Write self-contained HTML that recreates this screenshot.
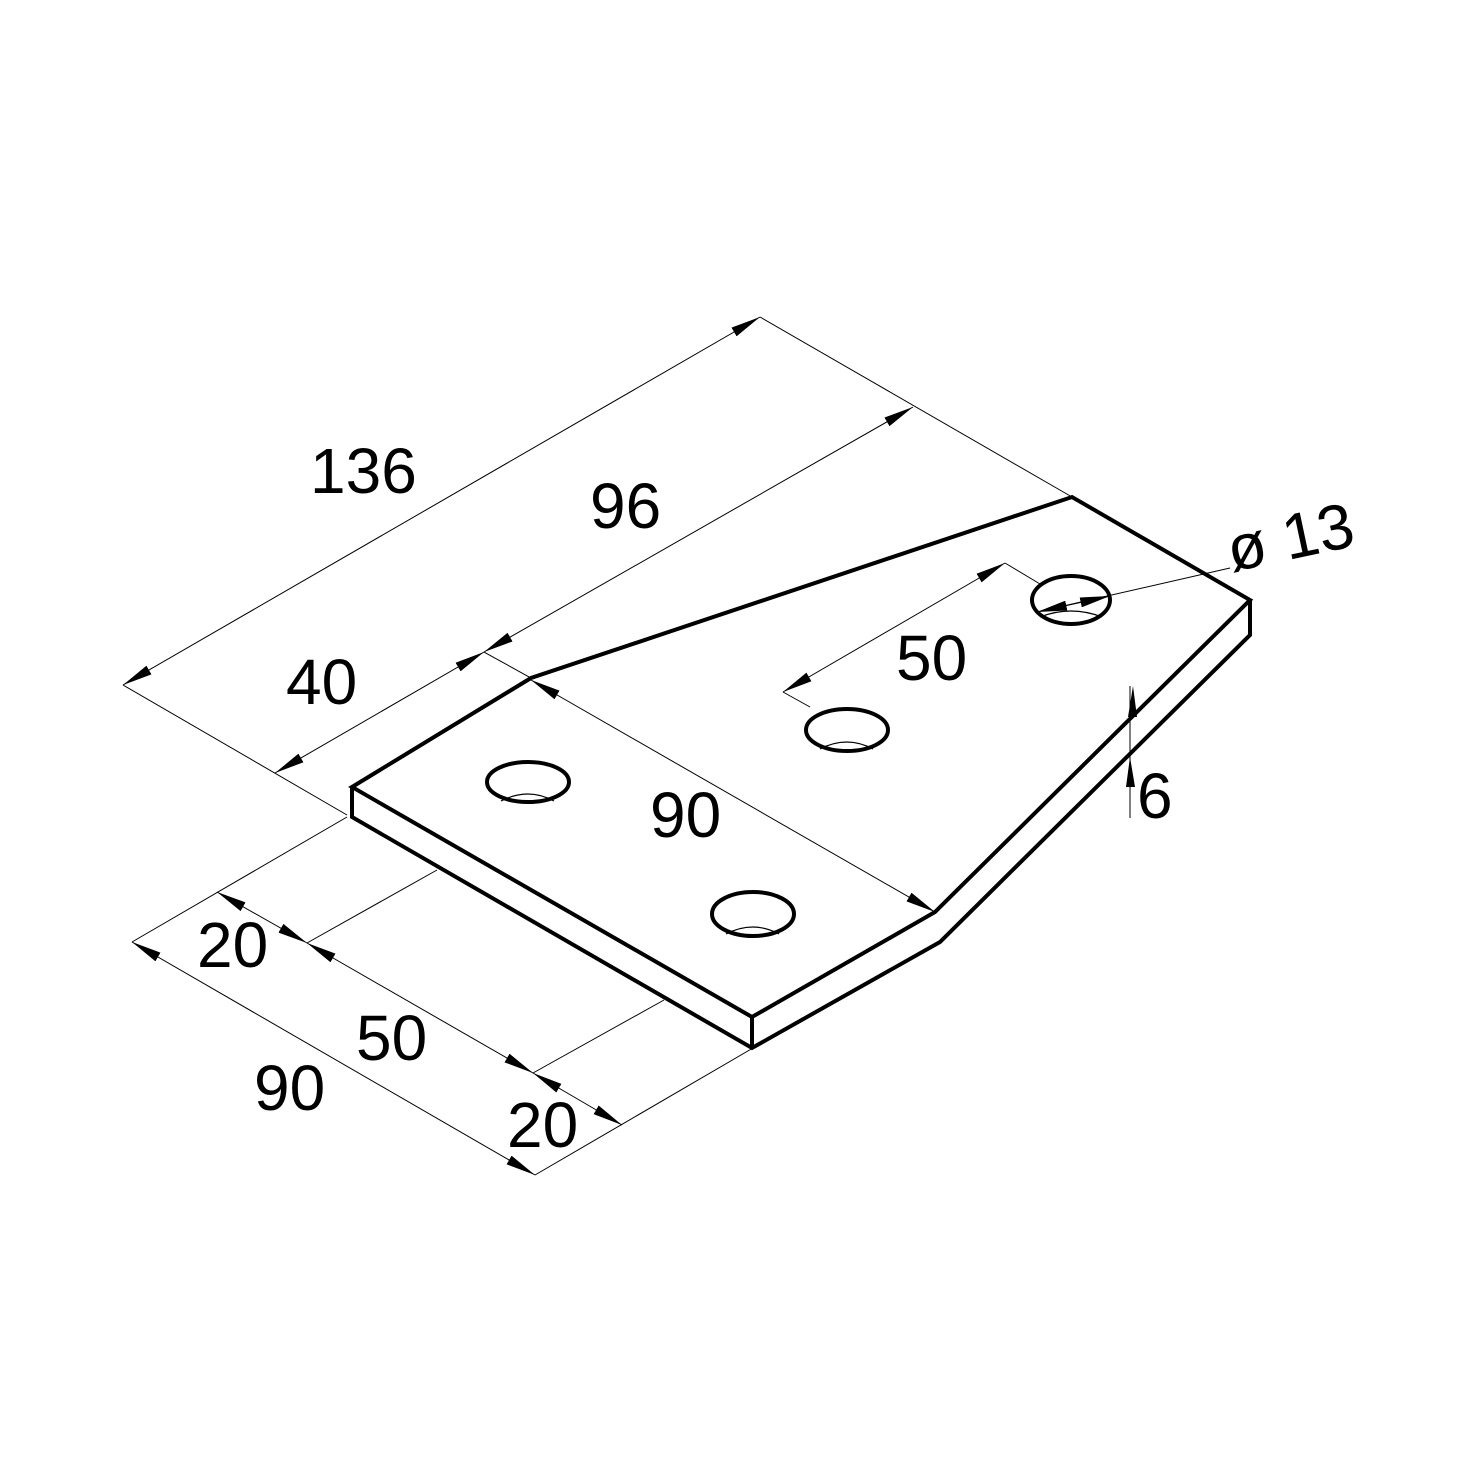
<!DOCTYPE html>
<html><head><meta charset="utf-8"><style>
html,body{margin:0;padding:0;background:#fff}
svg{display:block}
text{font-family:"Liberation Sans",sans-serif;font-size:64px;fill:#000}
</style></head><body>
<svg width="1480" height="1480" viewBox="0 0 1480 1480" xmlns="http://www.w3.org/2000/svg">
<defs>
<marker id="a" viewBox="0 0 30 10" refX="30" refY="5" markerWidth="30" markerHeight="10" markerUnits="userSpaceOnUse" orient="auto-start-reverse">
<path d="M30,5 L0,0 L0,10 Z" fill="#000"/>
</marker>
</defs>
<rect width="1480" height="1480" fill="#fff"/>
<g stroke="#000" stroke-width="1" fill="none">
<line x1="760" y1="317" x2="1072" y2="497"/>
<line x1="123" y1="685" x2="347" y2="815"/>
<line x1="484" y1="652" x2="531" y2="678"/>
<line x1="347" y1="817" x2="132" y2="942"/>
<line x1="437" y1="870" x2="307" y2="943"/>
<line x1="664" y1="1000" x2="533" y2="1073"/>
<line x1="753" y1="1048" x2="535" y2="1175"/>
<line x1="1005" y1="563" x2="1040" y2="584"/>
<line x1="783" y1="692" x2="810" y2="707"/>
<line x1="1037" y1="612" x2="1230" y2="568"/>
<line x1="1130" y1="686" x2="1130" y2="818"/>
<line x1="123" y1="685" x2="760" y2="317" marker-start="url(#a)" marker-end="url(#a)"/>
<line x1="484" y1="652" x2="913" y2="407" marker-start="url(#a)" marker-end="url(#a)"/>
<line x1="275" y1="773" x2="484" y2="652" marker-start="url(#a)" marker-end="url(#a)"/>
<line x1="531" y1="680" x2="935" y2="912" marker-start="url(#a)" marker-end="url(#a)"/>
<line x1="783" y1="692" x2="1005" y2="563" marker-start="url(#a)" marker-end="url(#a)"/>
<line x1="132" y1="942" x2="535" y2="1175" marker-start="url(#a)" marker-end="url(#a)"/>
<line x1="217" y1="892" x2="307" y2="943" marker-start="url(#a)" marker-end="url(#a)"/>
<line x1="307" y1="943" x2="533" y2="1073" marker-start="url(#a)" marker-end="url(#a)"/>
<line x1="533" y1="1073" x2="622" y2="1125" marker-start="url(#a)" marker-end="url(#a)"/>
<line x1="1037" y1="612" x2="1110" y2="596" marker-start="url(#a)" marker-end="url(#a)"/>
</g>
<path d="M1133,686 L1128,717 L1137,717 Z" fill="#000"/>
<path d="M1130,757 L1126,787 L1135,787 Z" fill="#000"/>
<g stroke="#000" stroke-width="4" fill="none" stroke-linejoin="miter">
<path d="M352,787 L531,678 L1072,497 L1250,600 L935,912 L752,1017 Z"/>
<path d="M352,787 L352,817 L752,1048 L940,942 L1250,635 L1250,600"/>
<line x1="752" y1="1017" x2="752" y2="1048"/>
<ellipse cx="528" cy="782" rx="41" ry="20"/>
<ellipse cx="847" cy="730" rx="41" ry="21"/>
<ellipse cx="753" cy="914" rx="41" ry="22"/>
<ellipse cx="1071" cy="600" rx="39" ry="24"/>
</g>
<g stroke="#000" stroke-width="1.2" fill="none">
<path d="M501,801 Q528,787 554,801"/>
<path d="M820,749 Q847,735 873,749"/>
<path d="M726,934 Q753,920 779,934"/>
<path d="M1040,617 Q1071,605 1102,617"/>
</g>
<text x="310" y="493">136</text>
<text x="590" y="528">96</text>
<text x="286" y="704">40</text>
<text x="896" y="680">50</text>
<text x="650" y="837">90</text>
<text x="1137" y="818">6</text>
<text x="197" y="967">20</text>
<text x="356" y="1060">50</text>
<text x="254" y="1110">90</text>
<text x="507" y="1147">20</text>
<text x="1232" y="572" transform="rotate(-12 1232 572)">ø 13</text>
</svg>
</body></html>
